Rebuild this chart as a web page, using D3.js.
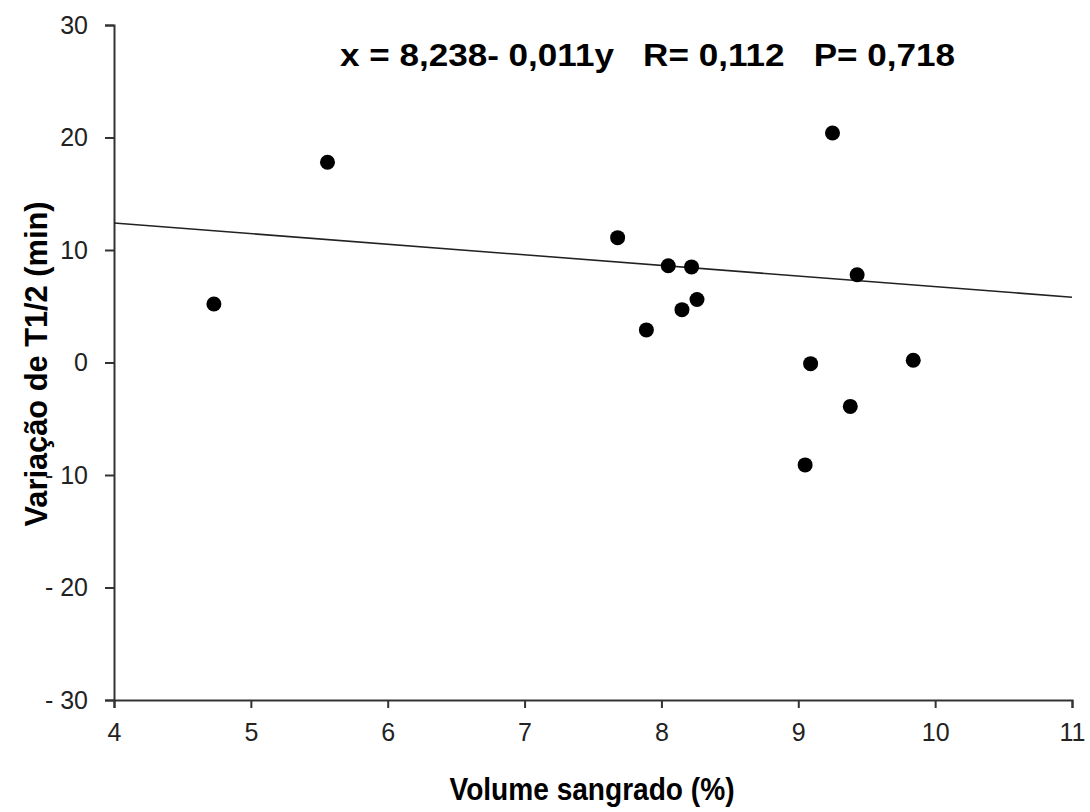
<!DOCTYPE html>
<html><head><meta charset="utf-8">
<script src="https://cdn.jsdelivr.net/npm/d3@7"></script>
<style>body{margin:0;background:#fff}svg{display:block}text{font-family:"Liberation Sans",Arial,sans-serif}</style>
</head><body>
<script>
// Data
const volume   = [4.73, 5.56, 7.68, 8.05, 8.22, 8.26, 8.15, 7.89, 9.25, 9.43, 9.09, 9.84, 9.38, 9.05];
const variacao = [5.2, 17.8, 11.1, 8.6, 8.5, 5.6, 4.7, 2.9, 20.4, 7.8, -0.1, 0.2, -3.9, -9.1];
const fitX = [4, 11];
const fitY = [12.4, 5.8];
const xTicks = [4, 5, 6, 7, 8, 9, 10, 11];
const yTicks = [-30, -20, -10, 0, 10, 20, 30];
const equation = "x = 8,238- 0,011y   R= 0,112   P= 0,718";
const xTitle = "Volume sangrado (%)";
const yTitle = "Variação de T1/2 (min)";

const W = 1090, H = 812;
const svg = d3.select("body").append("svg").attr("width", W).attr("height", H);
const x = d3.scaleLinear().domain([4, 11]).range([114, 1072]);
const y = d3.scaleLinear().domain([-30, 30]).range([700, 25]);

const axisColor = "#333";
const gx = svg.append("g").attr("transform", `translate(0,${y(-30)})`)
  .call(d3.axisBottom(x).tickValues(xTicks).tickFormat(d3.format("d")).tickSizeOuter(0).tickSize(8).tickPadding(15));
const gy = svg.append("g").attr("transform", `translate(${x(4)},0)`)
  .call(d3.axisLeft(y).tickValues(yTicks).tickFormat(d => d < 0 ? "- " + Math.abs(d) : d).tickSizeOuter(0).tickSize(9).tickPadding(17));
[gx, gy].forEach(g => {
  g.select(".domain").attr("stroke", axisColor).attr("stroke-width", 2);
  g.selectAll(".tick line").attr("stroke", axisColor).attr("stroke-width", 2);
  g.selectAll(".tick text").attr("fill", "#222").style("font-size", "25px").style("font-family", "'Liberation Sans',Arial,sans-serif");
});

// regression line
svg.append("line")
  .attr("x1", x(fitX[0])).attr("y1", y(fitY[0]))
  .attr("x2", x(fitX[1])).attr("y2", y(fitY[1]))
  .attr("stroke", "#222").attr("stroke-width", 1.6);

// points
svg.append("g").selectAll("circle").data(volume.map((v, i) => [v, variacao[i]]))
  .join("circle").attr("cx", d => x(d[0])).attr("cy", d => y(d[1])).attr("r", 7.5).attr("fill", "#000");

// equation
svg.append("text").attr("x", 340).attr("y", 66)
  .style("white-space", "pre").attr("xml:space", "preserve")
  .attr("font-weight", "bold").attr("font-size", 31)
  .attr("textLength", 615).attr("lengthAdjust", "spacingAndGlyphs")
  .text(equation);

// axis titles
svg.append("text").attr("x", 592).attr("y", 800).attr("text-anchor", "middle")
  .attr("font-weight", "bold").attr("font-size", 31)
  .attr("textLength", 285).attr("lengthAdjust", "spacingAndGlyphs").text(xTitle);
svg.append("text").attr("transform", "translate(47,364) rotate(-90)").attr("text-anchor", "middle")
  .attr("font-weight", "bold").attr("font-size", 31)
  .attr("textLength", 325).attr("lengthAdjust", "spacingAndGlyphs").text(yTitle);
</script>
</body></html>
